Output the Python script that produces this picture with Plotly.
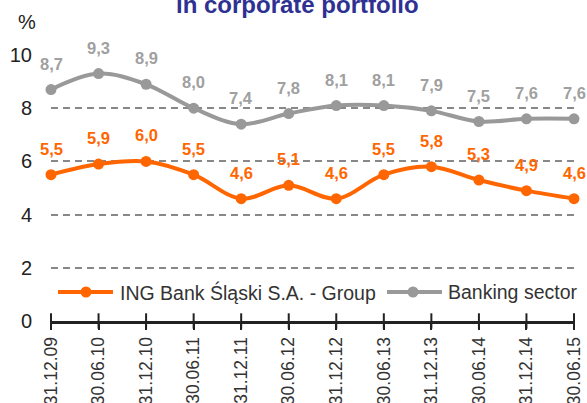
import plotly.graph_objects as go

# Reporting dates (x categories)
dates = ["31.12.09", "30.06.10", "31.12.10", "30.06.11", "31.12.11", "30.06.12",
         "31.12.12", "30.06.13", "31.12.13", "30.06.14", "31.12.14", "30.06.15"]

# Series values, %
ing_group = [5.5, 5.9, 6.0, 5.5, 4.6, 5.1, 4.6, 5.5, 5.8, 5.3, 4.9, 4.6]
banking_sector = [8.7, 9.3, 8.9, 8.0, 7.4, 7.8, 8.1, 8.1, 7.9, 7.5, 7.6, 7.6]

y_ticks = [0, 2, 4, 6, 8, 10]

series = [
    ("ING Bank Śląski S.A. - Group", ing_group, "#FF6600", "#FF6600"),
    ("Banking sector", banking_sector, "#999999", "#A0A0A0"),
]

FONT = "Liberation Sans, Arial, sans-serif"
W, H = 587, 403
L, R, T, B = 51, 13, 55, 82
PW, PH = W - L - R, H - T - B


def px_x(p):
    return (p - L) / PW


def px_y(p):
    return (H - B - p) / PH


fig = go.Figure()

for name, vals, col, _ in series:
    fig.add_trace(go.Scatter(
        x=dates, y=vals, name=name, mode="lines+markers",
        line=dict(color=col, width=4, shape="spline", smoothing=1.0),
        marker=dict(color=col, size=11),
        cliponaxis=False, showlegend=False,
    ))

# tick marks crossing the x axis line
fig.add_trace(go.Scatter(
    x=dates, y=[0] * len(dates), mode="markers", showlegend=False,
    hoverinfo="skip", cliponaxis=False,
    marker=dict(symbol="line-ns", size=11, line=dict(color="#222222", width=2)),
))

annotations = []
for _, vals, _, lab_col in series:
    for d, v in zip(dates, vals):
        annotations.append(dict(
            x=d, y=v, xref="x", yref="y", text=f"<b>{v:.1f}</b>".replace(".", ","),
            showarrow=False, yanchor="bottom", yshift=15,
            font=dict(family=FONT, size=16.5, color=lab_col),
        ))

annotations.append(dict(
    x=px_x(297), y=px_y(5), xref="paper", yref="paper",
    text="<b>in corporate portfolio</b>",
    showarrow=False, xanchor="center", yanchor="middle",
    font=dict(family=FONT, size=24, color="#2E3192"),
))
annotations.append(dict(
    x=px_x(27), y=px_y(22), xref="paper", yref="paper", text="%",
    showarrow=False, xanchor="center", yanchor="middle",
    font=dict(family=FONT, size=20, color="#222222"),
))

# legend, drawn as line + dot + label
shapes = []
legend_items = [(58, 113, 86, 118), (387, 442, 413, 446)]
for (name, _, col, _), (lx0, lx1, mx, tx) in zip(series, legend_items):
    ly = 292
    shapes.append(dict(type="line", xref="paper", yref="paper",
                       x0=px_x(lx0), x1=px_x(lx1), y0=px_y(ly), y1=px_y(ly),
                       line=dict(color=col, width=4)))
    shapes.append(dict(type="circle", xref="paper", yref="paper",
                       xsizemode="pixel", ysizemode="pixel",
                       xanchor=px_x(mx), yanchor=px_y(ly),
                       x0=-5.5, x1=5.5, y0=-5.5, y1=5.5,
                       fillcolor=col, line=dict(width=0)))
    annotations.append(dict(
        x=px_x(tx), y=px_y(ly), xref="paper", yref="paper", text=name,
        showarrow=False, xanchor="left", yanchor="middle",
        font=dict(family=FONT, size=19.5, color="#333333"),
    ))

fig.update_layout(
    width=W, height=H,
    margin=dict(l=L, r=R, t=T, b=B, autoexpand=False),
    paper_bgcolor="white", plot_bgcolor="white",
    font=dict(family=FONT, color="#222222"),
    annotations=annotations, shapes=shapes,
    showlegend=False,
)

fig.update_xaxes(
    type="category", range=[0, len(dates) - 1], automargin=False,
    showgrid=False, showline=True, linecolor="#222222", linewidth=3,
    ticks="outside", ticklen=6, tickwidth=2, tickcolor="#222222",
    tickangle=-90, tickfont=dict(family=FONT, size=17.5, color="#333333"),
    zeroline=False,
)

fig.update_yaxes(
    range=[0, 10], tickvals=y_ticks, ticktext=[str(t) for t in y_ticks],
    automargin=False,
    showgrid=True, gridcolor="#888888", gridwidth=2, griddash="7px,5px",
    zeroline=False, showline=False,
    ticks="outside", ticklen=14, tickcolor="rgba(0,0,0,0)",
    tickfont=dict(family=FONT, size=20, color="#222222"),
)

fig.write_html("out.html")
